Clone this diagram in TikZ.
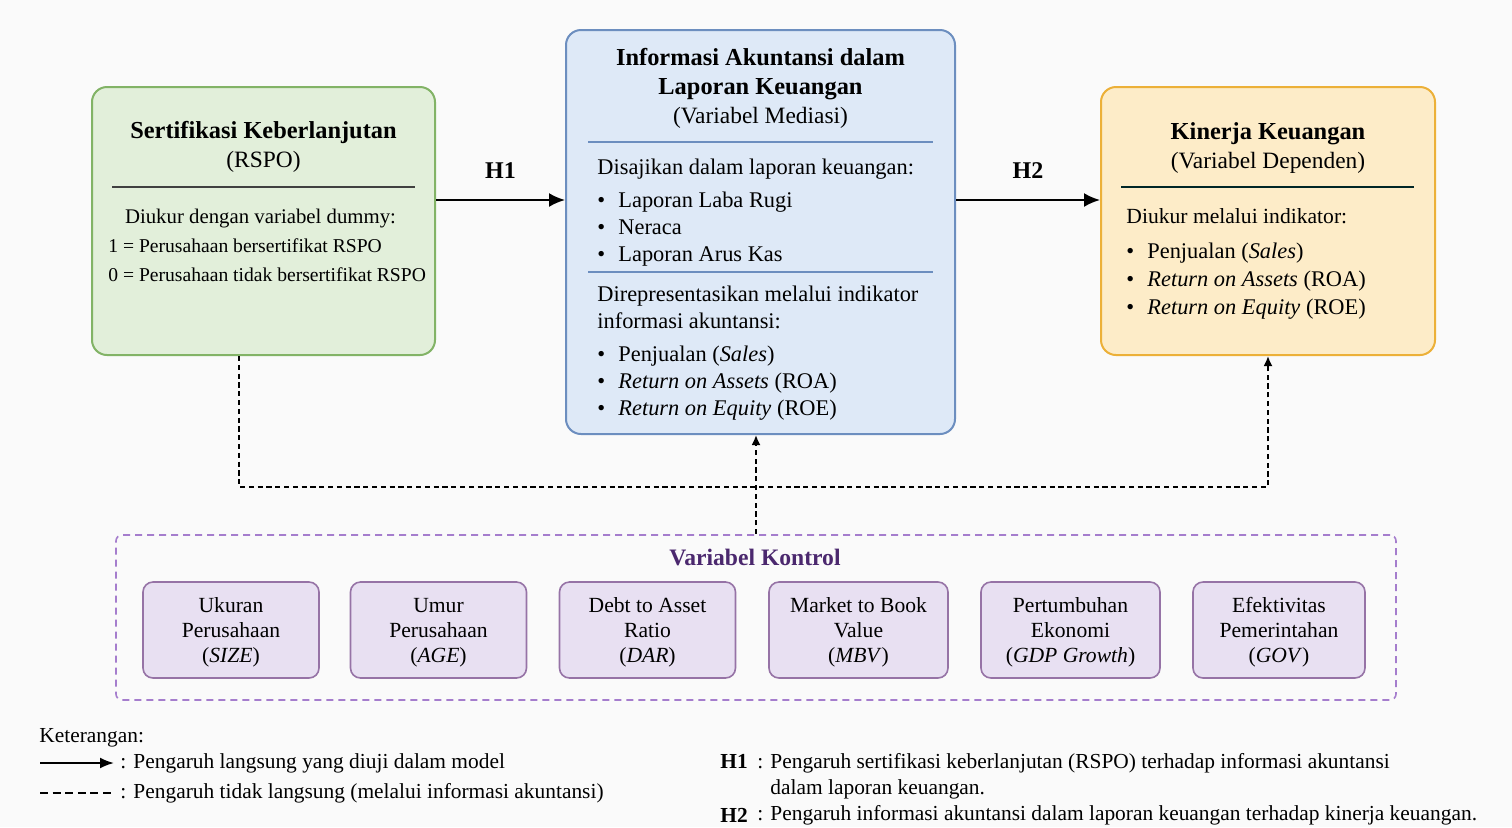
\documentclass[tikz,border=0pt]{standalone}
\usepackage{fontspec}
\setmainfont{Liberation Serif}
\usetikzlibrary{arrows.meta}
\definecolor{gfill}{RGB}{226,239,218}
\definecolor{gline}{RGB}{130,179,102}
\definecolor{bfill}{RGB}{222,233,247}
\definecolor{bline}{RGB}{108,142,191}
\definecolor{ofill}{RGB}{253,236,200}
\definecolor{oline}{RGB}{236,176,56}
\definecolor{pfill}{RGB}{232,224,242}
\definecolor{pline}{RGB}{150,115,166}
\definecolor{pdash}{RGB}{165,125,205}
\definecolor{ptext}{RGB}{75,40,110}
\definecolor{bg}{RGB}{250,250,250}
\newcommand{\itm}{\makebox[10.5pt][l]{\textbullet}}

\begin{document}
\begin{tikzpicture}[x=0.5pt,y=-0.5pt,
	box/.style={draw,rounded corners=7.5pt,line width=1pt},
	ttl/.style={font=\fontsize{12.2}{14.5}\selectfont\bfseries,align=center,anchor=north,inner sep=0pt},
	txt/.style={font=\fontsize{11.2}{13.5}\selectfont,align=left,anchor=north west,inner sep=0pt},
	lgd/.style={font=\fontsize{10.7}{13}\selectfont,align=left,anchor=west,inner sep=0pt},
	hyp/.style={font=\fontsize{12}{14}\selectfont\bfseries},
	sepline/.style={line width=0.8pt},
	arr/.style={-{Latex[length=8pt,width=7pt]},line width=1pt},
	ctl/.style={draw=pline,fill=pfill,rounded corners=5pt,line width=0.8pt,minimum width=88pt,
	minimum height=48pt,align=center,font=\fontsize{10.8}{12.5}\selectfont,text height=32.4pt,text depth=0.4pt},
	dsh/.style={dash pattern=on 2.6pt off 1.8pt,line width=0.9pt},
	darr/.style={dsh,-{Latex[length=5pt,width=4.5pt]}}]
\useasboundingbox[fill=bg] (0,0) rectangle (1512,827);
\node[box,draw=gline,fill=gfill,minimum width=171.5pt,minimum height=134pt] (rspo) at (263.5,221) {};
\node[box,draw=bline,fill=bfill,minimum width=194.5pt,minimum height=202pt] (info) at (760.5,232) {};
\node[box,draw=oline,fill=ofill,minimum width=167pt,minimum height=134pt] (kin) at (1268,221) {};
\node[ttl] (rspot) at (263.5,121) {Sertifikasi Keberlanjutan\\{\mdseries\fontsize{11.7}{14}\selectfont(RSPO)}};
\draw[sepline,black!75] (112,187) -- (415,187);
\node[inner sep=0pt,anchor=north,font=\fontsize{10.4}{14.5}\selectfont] (rspoa) at (260.5,209) {Diukur dengan variabel dummy:};
\node[txt,font=\fontsize{9.8}{14.5}\selectfont] (rspob) at (108,238) {1 = Perusahaan bersertifikat RSPO\\0 = Perusahaan tidak bersertifikat RSPO};
\node[ttl] (infot) at (760.5,48) {Informasi Akuntansi dalam\\Laporan Keuangan\\{\mdseries\fontsize{11.7}{14.5}\selectfont(Variabel Mediasi)}};
\draw[sepline,bline] (588,142) -- (933,142);
\node[txt] (infoa) at (597,159) {Disajikan dalam laporan keuangan:\\[3pt]\itm Laporan Laba Rugi\\\itm Neraca\\\itm Laporan Arus Kas};
\draw[sepline,bline] (588,272) -- (933,272);
\node[txt] (infob) at (597,286) {Direpresentasikan melalui indikator\\informasi akuntansi:\\[3pt]\itm Penjualan (\textit{Sales})\\
\itm \textit{Return on Assets} (ROA)\\\itm \textit{Return on Equity} (ROE)};
\node[ttl] (kint) at (1268,122) {Kinerja Keuangan\\{\mdseries\fontsize{11.7}{14.5}\selectfont(Variabel Dependen)}};
\draw[sepline,black!70!teal] (1121,187) -- (1414,187);
\node[txt,font=\fontsize{11.2}{14}\selectfont] (kina) at (1126,208) {{\fontsize{10.8}{14}\selectfont Diukur melalui indikator:}\\[3.5pt]
\itm Penjualan (\textit{Sales})\\\itm \textit{Return on Assets} (ROA)\\\itm \textit{Return on Equity} (ROE)};
\coordinate (hy) at (0,200);
\draw[arr] (rspo.east |- hy) -- (info.west |- hy) node[midway,above=7pt,hyp] {H1};
\draw[arr] (info.east |- hy) -- (kin.west |- hy) node[midway,above=7pt,hyp] {H2};
\node[draw=pdash,dash pattern=on 3.5pt off 2.5pt,line width=0.8pt,rounded corners=3pt,minimum width=640pt,minimum height=82.5pt] (ktrl) at (756,617.5) {};
\node[inner sep=0pt,font=\fontsize{11.8}{14}\selectfont\bfseries,text=ptext] (ktrlt) at (755,557) {Variabel Kontrol};
\node[ctl] (size) at (231,630) {Ukuran\\Perusahaan\\(\textit{SIZE})};
\node[ctl] (age) at (438.5,630) {Umur\\Perusahaan\\(\textit{AGE})};
\node[ctl] (dar) at (647.5,630) {Debt to Asset\\Ratio\\(\textit{DAR})};
\node[ctl,minimum width=89.5pt] (mbv) at (858.5,630) {Market to Book\\Value\\(\textit{MBV})};
\node[ctl,minimum width=89.5pt] (gdp) at (1070.5,630) {Pertumbuhan\\Ekonomi\\(\textit{GDP Growth})};
\node[ctl,minimum width=86pt] (gov) at (1279,630) {Efektivitas\\Pemerintahan\\(\textit{GOV})};
\coordinate (dl) at (239,487);
\coordinate (dr) at (1268,487);
\draw[darr] (rspo.south -| dl) |- (dr) -- (kin.south);
\draw[darr] (ktrl.north) -- (ktrl.north |- info.south);
\node[lgd] (ket) at (39,738) {Keterangan:};
\coordinate (la) at (40,763);
\coordinate (lb) at (114,763);
\draw[-{Latex[length=7pt,width=5.5pt]},line width=1pt] (la) -- (lb);
\node[lgd] (ketl) at (120,763) {: Pengaruh langsung yang diuji dalam model};
\coordinate (lc) at (40,793);
\coordinate (ld) at (113,793);
\draw[line width=0.9pt,dash pattern=on 4pt off 2.3pt] (lc) -- (ld);
\node[lgd] (ketd) at (120,793) {: Pengaruh tidak langsung (melalui informasi akuntansi)};
\node[lgd,font=\fontsize{10.7}{13}\selectfont\bfseries] (h1) at (720,761) {H1};
\node[lgd,anchor=north west] (h1t) at (757,753) {: Pengaruh sertifikasi keberlanjutan (RSPO) terhadap informasi akuntansi\\\phantom{: }dalam laporan keuangan.};
\node[lgd,font=\fontsize{10.7}{13}\selectfont\bfseries] (h2) at (720,815) {H2};
\node[lgd] (h2t) at (757,815) {: Pengaruh informasi akuntansi dalam laporan keuangan terhadap kinerja keuangan.};
\end{tikzpicture}
\end{document}
